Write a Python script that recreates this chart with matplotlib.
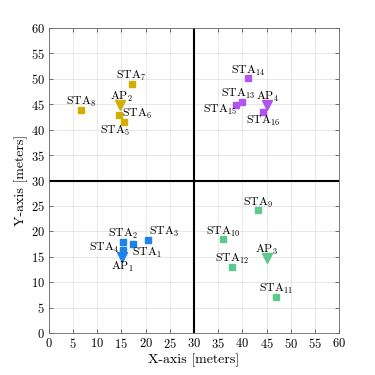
import matplotlib
matplotlib.use("Agg")
import matplotlib.pyplot as plt

plt.rcParams['font.family'] = 'serif'
plt.rcParams['font.serif'] = ['cmr10']
plt.rcParams['mathtext.fontset'] = 'cm'
plt.rcParams['axes.formatter.use_mathtext'] = True

# Access points
ap_names = ['1', '2', '3', '4']
ap_x = [15.2, 14.8, 45.0, 45.0]
ap_y = [15.0, 44.9, 14.8, 44.9]

# Stations (group index = AP they belong to)
sta_names = ['1', '2', '3', '4', '5', '6', '7', '8',
             '9', '10', '11', '12', '13', '14', '15', '16']
sta_x = [17.3, 15.4, 20.6, 15.4, 15.5, 14.5, 17.1, 6.7,
         43.3, 36.0, 46.9, 37.9, 40.0, 41.2, 38.6, 44.2]
sta_y = [17.5, 18.0, 18.2, 16.3, 41.5, 42.8, 49.0, 43.9,
         24.2, 18.5, 7.1, 12.9, 45.5, 50.1, 44.9, 43.4]
sta_group = [0, 0, 0, 0, 1, 1, 1, 1, 2, 2, 2, 2, 3, 3, 3, 3]

colors = ['#1E82EB', '#D2AE00', '#5EC98F', '#B055F0']

# label offsets in pixels (dx right, dy up)
ap_off = [(0, -10), (1, 8), (0, 8), (1, 8)]
sta_off = [(14, -9), (0, 7.5), (16, 8), (-19, 2), (-8.5, -8.5), (18, 1), (0, 8), (0, 8),
           (0, 7), (0, 7), (0, 8), (0, 8), (-4, 8), (0, 7), (-16, -5), (0, -9)]

fig = plt.figure(figsize=(3.75, 3.75), dpi=100)
ax = fig.add_axes([0.1299, 0.112, 0.775, 0.8133])

ax.axvline(30, color='black', lw=1.5, zorder=1)
ax.axhline(30, color='black', lw=1.5, zorder=1)

for i in range(len(sta_x)):
    c = colors[sta_group[i]]
    ax.plot(sta_x[i], sta_y[i], marker='s', ms=4.3, color=c, mec=c, ls='none', zorder=3)
    ax.annotate(r'$\mathrm{STA}_{' + sta_names[i] + '}$',
                (sta_x[i], sta_y[i]), xytext=sta_off[i], textcoords='offset pixels',
                ha='center', va='center', fontsize=8.5)

for i in range(len(ap_x)):
    c = colors[i]
    ax.plot(ap_x[i], ap_y[i], marker='v', ms=7, color=c, mec=c, ls='none', zorder=3)
    ax.annotate(r'$\mathrm{AP}_{' + ap_names[i] + '}$',
                (ap_x[i], ap_y[i]), xytext=ap_off[i], textcoords='offset pixels',
                ha='center', va='center', fontsize=8.5)

ax.set_xlim(0, 60)
ax.set_ylim(0, 60)
ax.set_xticks(range(0, 61, 5))
ax.set_yticks(range(0, 61, 5))
ax.grid(True, color='#e4e4e4', lw=0.6, zorder=0)
ax.set_axisbelow(True)
ax.tick_params(direction='in', length=3, width=0.6, color='#555555', top=True, right=True,
               labelsize=9, pad=3)
for s in ax.spines.values():
    s.set_color('#666666')
    s.set_linewidth(0.6)
ax.set_xlabel('X-axis [meters]', fontsize=10, labelpad=2)
ax.set_ylabel('Y-axis [meters]', fontsize=10, labelpad=2)

fig.savefig('out.png', dpi=100)
